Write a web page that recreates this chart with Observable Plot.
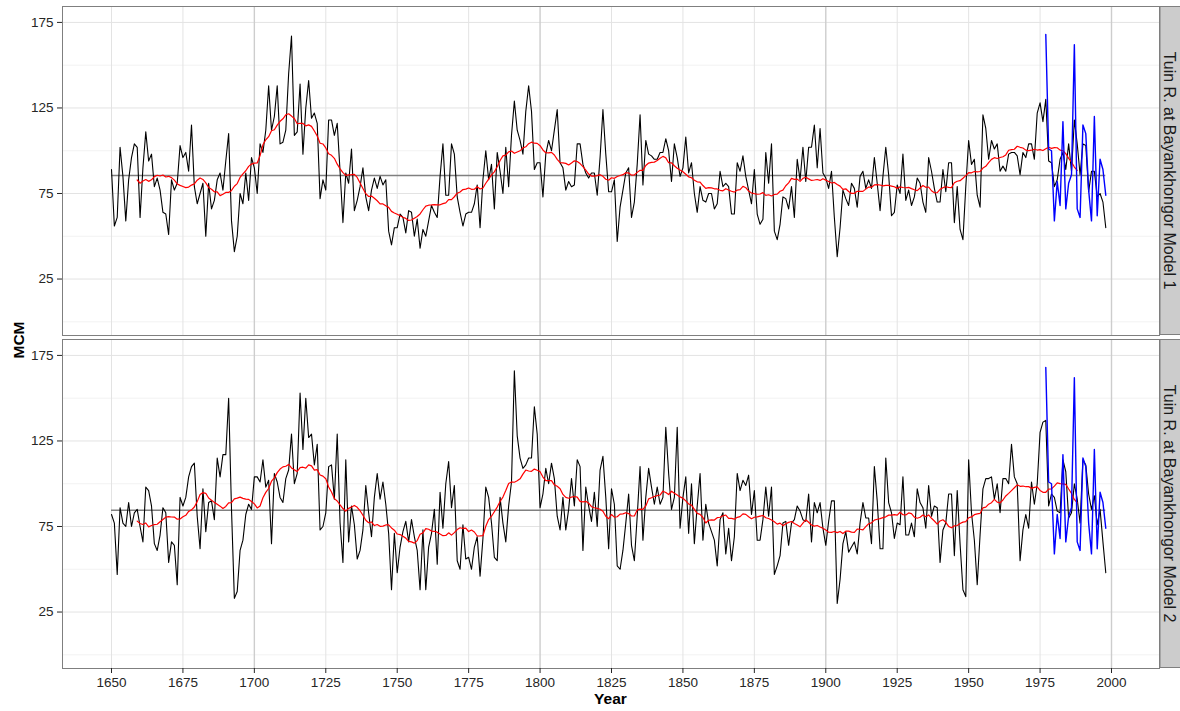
<!DOCTYPE html>
<html><head><meta charset="utf-8">
<script src="https://cdn.jsdelivr.net/npm/d3@7"></script>
<script src="https://cdn.jsdelivr.net/npm/@observablehq/plot@0.6"></script>
<style>body{margin:0;background:#fff} svg{display:block}</style>
</head><body><div id="chart"></div>
<script>
const panels = ["Tuin R. at Bayankhongor Model 1", "Tuin R. at Bayankhongor Model 2"];
const startYear = 1650;
const model1 = [
89,56,61,102,85,59,83,96,104,102,
61,90,111,94,98,79,84,77,64,63,
51,83,77,81,103,96,99,88,115,79,
69,75,81,50,81,66,71,83,87,77,
94,110,59,41,50,75,69,87,71,96,
90,75,104,99,112,138,112,120,138,104,
105,112,145,167,109,111,139,98,125,141,
119,122,116,72,83,77,118,118,109,116,
88,58,87,81,101,65,71,79,90,73,
65,77,84,78,85,80,83,53,45,55,
55,63,61,52,65,64,50,60,43,54,
50,59,68,64,61,85,104,74,74,104,
98,73,64,56,63,64,64,69,80,55,
83,100,83,92,66,99,88,75,102,79,
109,129,112,106,98,123,138,123,89,93,
93,73,98,106,100,112,124,93,90,77,
82,79,80,104,104,92,87,84,87,87,
74,96,124,98,76,76,83,47,67,77,
87,90,61,70,92,121,80,106,98,97,
95,95,99,99,107,100,82,104,96,85,
90,108,87,93,75,64,79,71,70,75,
75,66,69,88,79,81,79,63,63,93,
88,97,85,77,69,89,63,57,60,99,
81,104,53,48,57,73,72,66,79,61,
95,83,102,82,102,102,115,90,113,87,
84,78,88,61,38,55,77,72,68,81,
78,67,85,88,78,83,78,96,81,65,
85,102,86,62,64,80,75,98,71,77,
68,73,84,81,70,64,96,88,78,70,
70,89,76,93,93,58,79,54,48,79,
106,92,95,74,67,121,113,95,106,101,
104,88,91,88,98,99,99,97,86,99,
96,104,104,95,122,128,117,130,94,93,
79,83,95,99,89,104,88,118,104,86,
104,103,76,88,88,73,75,70,55
];
const model2 = [
82,77,47,86,77,75,89,75,83,85,
75,66,98,96,87,65,61,70,86,83,
54,66,64,41,92,87,92,104,110,112,
81,62,97,72,89,90,79,115,104,117,
117,150,85,33,37,61,67,82,88,85,
104,104,101,114,98,102,65,106,101,92,
89,103,108,129,100,106,153,120,150,127,
129,111,123,73,75,83,110,111,91,129,
77,54,114,66,87,76,56,61,73,99,
83,69,92,106,91,101,88,71,38,71,
48,63,72,78,66,79,69,61,38,73,
38,63,71,85,53,95,74,100,113,86,
99,55,50,76,56,57,50,63,69,46,
68,98,92,77,57,55,92,77,66,87,
101,166,128,115,109,111,115,115,145,129,
86,94,109,100,112,103,81,73,92,73,
85,103,87,114,110,61,98,87,78,95,
75,108,116,92,62,97,88,52,50,61,
77,94,64,55,81,110,67,92,109,98,
88,98,88,92,133,106,85,92,133,74,
92,104,71,100,65,87,106,67,88,77,
72,67,52,79,83,59,74,55,69,106,
96,102,99,105,82,96,67,67,79,98,
81,98,47,52,58,77,78,64,77,79,
87,84,79,78,94,66,89,83,89,74,
64,78,90,90,30,44,65,72,60,63,
66,59,77,89,80,80,65,110,90,62,
62,115,89,83,68,77,76,104,70,70,
77,69,97,89,86,74,99,81,87,86,
54,73,77,94,94,58,96,65,38,34,
114,83,67,41,70,97,103,103,104,91,
100,83,103,103,100,123,104,100,55,73,
82,74,101,88,100,130,136,137,87,94,
92,84,83,114,107,80,83,100,91,77,
114,111,94,85,93,76,85,66,48
];
const observedStart = 1977;
const observed = [168,101,100,59,82,68,117,66,81,86,162,66,61,115,110,77,59,120,62,95,89,74];
const panelMeans = [85.5, 84.5];
const xTicks = [1650,1675,1700,1725,1750,1775,1800,1825,1850,1875,1900,1925,1950,1975,2000];
const centuryLines = [1700,1800,1900,2000];
const yTicks = [25,75,125,175];
const yMinor = [0,50,100,150];

const recon = [];
[model1, model2].forEach((arr, p) => arr.forEach((v, i) => recon.push({panel: panels[p], year: startYear + i, value: v})));
const obs = [];
panels.forEach(p => observed.forEach((v, i) => obs.push({panel: p, year: observedStart + i, value: v})));
const endYear = startYear + model1.length - 1;
const means = panels.map((p, i) => ({panel: p, mean: panelMeans[i], x1: startYear, x2: endYear}));

const chart = Plot.plot({
  width: 1180, height: 711,
  marginLeft: 62, marginRight: 21, marginTop: 6, marginBottom: 42,
  style: {fontFamily: "'Liberation Sans', Arial, sans-serif", fontSize: "13.5px", color: "#262626", background: "#fff"},
  x: {domain: [1632.85, 2016.8]},
  y: {domain: [-8, 184.3]},
  fy: {domain: panels, paddingInner: 0.012, paddingOuter: 0, axis: null},
  marks: [
    Plot.gridY(yMinor, {stroke: "#f2f2f2", strokeOpacity: 1}),
    Plot.gridY(yTicks, {stroke: "#e3e3e3", strokeOpacity: 1}),
    Plot.gridX(xTicks.filter(t => !centuryLines.includes(t)), {stroke: "#e3e3e3", strokeOpacity: 1}),
    Plot.gridX(centuryLines, {stroke: "#cdcdcd", strokeOpacity: 1, strokeWidth: 1.4}),
    Plot.ruleY(means, {fy: "panel", y: "mean", x1: "x1", x2: "x2", stroke: "#808080", strokeWidth: 1.4}),
    Plot.lineY(recon, {fy: "panel", x: "year", y: "value", stroke: "black", strokeWidth: 1.1}),
    Plot.lineY(recon, Plot.windowY({k: 20, anchor: "middle", reduce: "mean", strict: true},
      {fy: "panel", x: "year", y: "value", stroke: "red", strokeWidth: 1.2})),
    Plot.lineY(obs, {fy: "panel", x: "year", y: "value", stroke: "blue", strokeWidth: 1.4}),
    Plot.frame({stroke: "#7f7f7f"}),
    Plot.axisY(yTicks, {anchor: "left", tickSize: 5, tickPadding: 4, label: null}),
    Plot.axisX(xTicks, {anchor: "bottom", tickSize: 5, tickPadding: 4, label: null, tickFormat: d => String(d)})
  ]
});

const svg = d3.select(chart);
const fyScale = chart.scale("fy");
panels.forEach(p => {
  const top = fyScale.apply(p);
  const h = fyScale.bandwidth;
  const g = svg.append("g");
  g.append("rect").attr("x", 1160).attr("y", top + 0.5).attr("width", 30).attr("height", h - 1)
    .attr("fill", "#cccccc").attr("stroke", "#7f7f7f");
  g.append("text").attr("transform", `translate(1170,${top + h / 2}) rotate(90)`)
    .attr("text-anchor", "middle").attr("dy", "0.35em").attr("font-size", "16px")
    .attr("fill", "#1a1a1a").text(p);
});
svg.append("text").attr("x", 610.5).attr("y", 704).attr("text-anchor", "middle")
  .attr("font-weight", "bold").attr("font-size", "15.5px").attr("fill", "#000").text("Year");
svg.append("text").attr("transform", "translate(24,340) rotate(-90)").attr("text-anchor", "middle")
  .attr("font-weight", "bold").attr("font-size", "15.5px").attr("fill", "#000").text("MCM");

document.getElementById("chart").appendChild(chart);
</script>
</body></html>
